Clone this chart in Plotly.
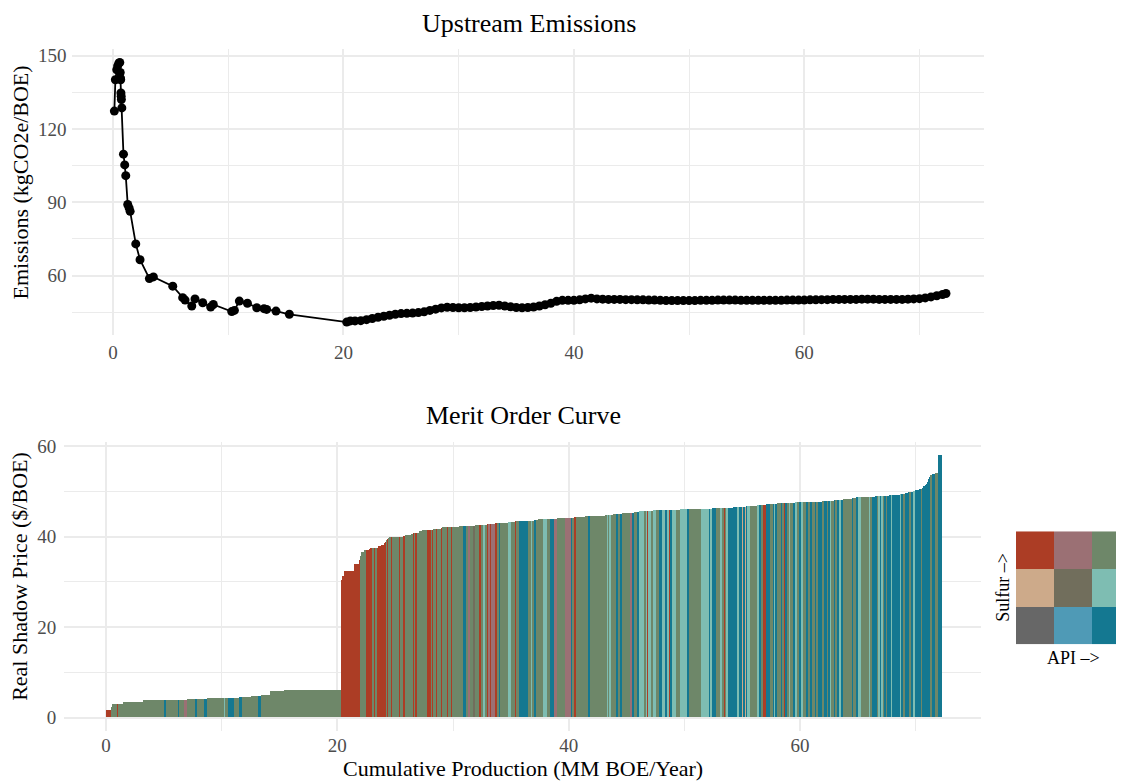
import numpy as np
import plotly.graph_objects as go

# ---------------- Data ----------------
# Upstream emissions curve (cumulative production vs. emissions intensity)
emis_x = [0.11, 0.20, 0.32, 0.40, 0.50, 0.58, 0.62, 0.64, 0.66, 0.68, 0.70, 0.72, 0.76,
          0.90, 1.01, 1.10, 1.27, 1.39, 1.48, 1.97, 2.34, 3.15, 3.50, 5.18, 6.04, 6.25,
          6.83, 7.11, 7.78, 8.47, 8.70, 10.30, 10.53, 10.96, 11.66, 12.47, 13.10, 13.33,
          14.14, 15.30,
          20.28, 20.6, 21.0, 21.5, 22.0, 22.5, 23.0, 23.5, 24.0, 24.5, 25.0, 25.5, 26.0,
          26.5, 27.0, 27.5, 28.0, 28.5, 29.0, 29.5, 30.0, 30.5, 31.0, 31.5, 32.0, 32.5,
          33.0, 33.5, 34.0, 34.5, 35.0, 35.5, 36.0, 36.5, 37.0, 37.5, 38.0, 38.5, 39.0,
          39.5, 40.0, 40.5, 41.0, 41.5, 42.0, 42.5, 43.0, 43.5, 44.0, 44.5, 45.0, 45.5,
          46.0, 46.5, 47.0, 47.5, 48.0, 48.5, 49.0, 49.5, 50.0, 50.5, 51.0, 51.5, 52.0,
          52.5, 53.0, 53.5, 54.0, 54.5, 55.0, 55.5, 56.0, 56.5, 57.0, 57.5, 58.0, 58.5,
          59.0, 59.5, 60.0, 60.5, 61.0, 61.5, 62.0, 62.5, 63.0, 63.5, 64.0, 64.5, 65.0,
          65.5, 66.0, 66.5, 67.0, 67.5, 68.0, 68.5, 69.0, 69.5, 70.0, 70.5, 71.0, 71.5,
          72.0, 72.3]
emis_y = [127.3, 140.1, 144.2, 145.8, 146.9, 147.2, 143.1, 140.8, 140.1, 134.7, 133.4, 132.0, 128.6,
          109.7, 105.3, 100.9, 89.1, 87.7, 86.3, 73.0, 66.5, 58.8, 59.5, 55.7, 51.0, 50.0,
          47.6, 50.5, 48.9, 47.2, 48.2, 45.3, 45.8, 49.6, 48.7, 46.9, 46.5, 46.2,
          45.5, 44.2,
          41.0, 41.5, 41.5, 41.6, 42.0, 42.5, 43.0, 43.4, 43.8, 44.2, 44.5, 44.6, 44.7,
          44.9, 45.2, 45.8, 46.3, 46.8, 47.1, 47.0, 46.9, 46.9, 47.0, 47.2, 47.4, 47.6,
          47.8, 47.9, 47.6, 47.3, 47.0, 46.9, 47.0, 47.2, 47.6, 48.1, 48.7, 49.5, 49.9,
          49.9, 49.9, 50.1, 50.5, 50.8, 50.5, 50.4, 50.3, 50.3, 50.3, 50.2, 50.2, 50.1,
          50.1, 50.0, 50.0, 49.9, 49.8, 49.8, 49.8, 49.8, 49.8, 49.8, 49.9, 49.9, 49.9,
          50.0, 50.0, 50.0, 50.0, 49.9, 49.9, 49.9, 49.9, 49.9, 49.9, 49.9, 49.9, 50.0,
          50.0, 50.0, 50.0, 50.1, 50.1, 50.2, 50.2, 50.3, 50.3, 50.3, 50.3, 50.3, 50.4,
          50.4, 50.4, 50.3, 50.3, 50.3, 50.3, 50.3, 50.4, 50.5, 50.6, 50.9, 51.3, 51.8,
          52.3, 52.7]

# Merit order curve: cumulative production at the end of each field (MM BOE/Year)
cum_production_end = [
    0.49, 0.58, 0.98, 1.10, 1.50, 3.23, 5.11, 5.19, 6.26, 6.35, 6.84, 7.01, 7.79, 7.88, 8.57,
    8.74, 10.30, 10.39, 10.56, 11.08, 11.52, 11.75, 12.55, 13.16, 13.42, 14.20, 15.41, 20.35,
    20.40, 20.49, 20.61, 21.47, 21.90, 21.99, 22.08, 22.34, 22.51, 22.77, 22.86, 23.03, 23.20,
    23.29, 23.46, 23.55, 23.81, 24.07, 24.16, 24.24, 24.33, 24.42, 24.50, 24.68, 24.76, 25.37,
    25.45, 25.71, 25.89, 26.41, 26.52, 26.70, 26.78, 26.95, 27.04, 27.39, 27.47, 27.79, 28.14,
    28.23, 28.31, 28.60, 28.66, 29.00, 29.09, 29.35, 29.52, 29.61, 29.87, 29.96, 30.51, 30.85,
    31.14, 31.37, 31.49, 31.83, 31.95, 32.24, 32.47, 32.64, 32.76, 32.96, 33.10, 33.22, 33.33,
    33.68, 33.85, 34.03, 34.11, 34.75, 35.06, 35.41, 35.50, 35.70, 36.54, 36.80, 36.91, 37.06,
    37.23, 37.40, 37.78, 38.10, 38.44, 38.79, 39.02, 39.74, 40.26, 40.38, 40.52, 40.66, 41.04,
    41.47, 41.76, 41.82, 43.21, 43.35, 43.44, 43.58, 43.67, 43.87, 44.16, 44.33, 44.42, 44.65,
    45.37, 45.51, 45.63, 45.97, 46.09, 46.61, 46.72, 46.81, 46.90, 47.16, 47.30, 47.53, 47.88,
    48.05, 48.31, 48.54, 48.74, 48.83, 48.98, 49.26, 49.64, 50.30, 50.39, 51.43,
    52.21, 52.29, 52.38, 52.73, 53.16, 53.25, 53.51, 53.59, 53.68, 53.77, 54.20, 54.63, 54.72,
    55.06, 55.15, 55.32, 55.41, 55.50, 55.67, 56.36, 56.45, 56.71, 56.80, 57.14, 57.23, 57.49,
    57.66, 57.84, 57.92, 58.01, 58.44, 58.53, 58.70, 58.79, 58.96, 59.13, 59.22, 59.39, 59.57,
    59.83, 59.91, 60.17, 60.26, 60.61, 60.78, 60.95, 61.04, 61.39, 61.47, 61.56, 61.82,
    61.90, 62.08, 62.42, 62.51, 62.68, 62.77, 62.94, 63.12, 63.29, 63.46, 63.55, 63.81, 63.90,
    64.59, 64.68, 64.85, 65.11, 65.28, 66.06, 66.15, 66.32, 66.49, 66.75, 66.84, 67.01, 67.10,
    67.19, 67.27, 67.45, 67.53, 67.71, 67.88, 67.97, 68.14, 68.66, 68.83, 69.00, 69.09, 69.35,
    69.52, 69.61, 69.78, 69.96, 70.13, 70.30, 70.48, 70.56, 70.65, 70.82, 70.91, 71.00, 71.08,
    71.17, 71.26, 71.43, 71.69, 71.95, 72.29]

# Real shadow price of each field ($/BOE), in merit order
shadow_price = [
    # 0 - 20
    1.5, 2.3, 2.8, 2.9, 2.9, 3.3, 3.7, 3.7, 3.7, 3.7,
    3.7, 3.9, 4.0, 4.0, 4.0, 4.0, 4.2, 4.2, 4.2, 4.2,
    4.2, 4.4, 4.4, 4.6, 4.6, 4.9, 5.7, 6.0,
    # 20 - 31
    29.6, 30.4, 31.3, 32.2, 33.9, 34.8, 35.7, 36.6, 36.9, 36.9,
    37.2, 37.4, 37.4, 37.4, 37.4, 37.4, 37.9, 38.1, 38.4, 38.8,
    39.1, 39.3, 39.5, 39.8, 39.8, 39.8, 39.8, 39.8, 40.1, 40.3,
    40.5, 40.8, 40.8, 40.8, 40.8, 41.1, 41.3, 41.4, 41.4, 41.4,
    41.4, 41.6, 41.6, 41.6, 41.8, 42.0, 42.0, 42.0, 42.0, 42.0,
    42.0, 42.3,
    # 31 - 41
    42.3, 42.3, 42.3, 42.3, 42.3, 42.5, 42.5, 42.5, 42.5, 42.5,
    42.7, 42.7, 42.7, 42.7, 42.9, 42.9, 42.9, 42.9, 43.1, 43.1,
    43.4, 43.4, 43.4, 43.4, 43.4, 43.4, 43.6, 43.6, 43.8, 43.8,
    43.8, 43.8, 43.8, 44.0, 44.0, 44.0, 44.0, 44.2, 44.2,
    # 41 - 51.4
    44.2, 44.4, 44.4, 44.4, 44.6, 44.6, 44.6, 44.6, 44.6, 44.8,
    44.8, 44.8, 44.8, 45.1, 45.1, 45.1, 45.3, 45.3, 45.5, 45.5,
    45.5, 45.5, 45.5, 45.5, 45.8, 45.8, 45.8, 45.8, 45.8, 45.8,
    45.8, 45.8, 45.8, 45.8, 46.0, 46.0, 46.0,
    # 51.4 - 61.8
    46.0, 46.0, 46.0, 46.2, 46.2, 46.2, 46.2, 46.2, 46.2, 46.2,
    46.2, 46.4, 46.4, 46.4, 46.4, 46.4, 46.4, 46.6, 46.6, 46.6,
    46.8, 46.8, 46.8, 46.8, 47.1, 47.1, 47.1, 47.1, 47.1, 47.1,
    47.3, 47.3, 47.3, 47.3, 47.3, 47.3, 47.3, 47.3, 47.3, 47.5,
    47.5, 47.5, 47.5, 47.5, 47.5, 47.5, 47.5, 47.5, 47.5, 47.5,
    47.5,
    # 61.8 - 72.3
    47.5, 47.7, 47.7, 47.7, 47.7, 47.7, 47.7, 48.0, 48.0, 48.0,
    48.0, 48.0, 48.2, 48.2, 48.4, 48.4, 48.6, 48.6, 48.6, 48.6,
    48.6, 48.6, 48.8, 48.8, 48.8, 48.8, 48.8, 48.8, 48.8, 48.8,
    48.8, 49.0, 49.0, 49.0, 49.0, 49.3, 49.3, 49.3, 49.5, 49.7,
    49.7, 49.8, 50.0, 50.1, 50.3, 50.4, 50.4, 50.7, 51.0, 51.3,
    51.6, 52.0, 52.6, 53.1, 53.5, 53.7, 53.9, 57.9]

# Crude class of each field (API level x sulfur level):
# r=lowAPI/highS  m=midAPI/highS  g=highAPI/highS
# t=lowAPI/midS   o=midAPI/midS   l=highAPI/midS
# y=lowAPI/lowS   b=midAPI/lowS   d=highAPI/lowS
crude_class = (
    "r g g r g g g d g d  g m g d g d g l g d  g d g g d g g g "
    "r r r r r r g g g r  r r g r g r r r r r  g r g g r g r g r g  "
    "g r g r g g g g r g  r g r g r g g r g r  g g "
    "d g m g o g r g l g  r m r m r g d g l g  r g d g l g d g g l  g d m g m d g r g "
    "g g d g g l g l g g  d g d g m d g d l g  l r l g l g d l d l  r d l g l d g "
    "l d l d g l g r g l  d d l d t d t d l g  l d g r d d g d l d  "
    "g d g r d g l g d l  g d l g d g d g d g  d "
    "d g d g d l g d g d  l d g g d g d l g l  g d d g l d l g d g  "
    "d d l d d l d g d d  g d l d d d g d d d  d d d d g d g d"
).split()

palette = {
    "r": "#AC3D25", "m": "#9B7074", "g": "#6E8769",
    "t": "#CDAA8A", "o": "#716E5C", "l": "#7EBDB2",
    "y": "#676767", "b": "#4F9AB6", "d": "#147891",
}
classes_order = ["y", "b", "d", "t", "o", "l", "r", "m", "g"]

# Legend grid (rows: sulfur low->high, columns: API low->high)
legend_grid = [["y", "b", "d"], ["t", "o", "l"], ["r", "m", "g"]]
legend_api = [1, 2, 3]
legend_sulfur = [1, 2, 3]

assert len(cum_production_end) == len(shadow_price) == len(crude_class), (
    len(cum_production_end), len(shadow_price), len(crude_class))
assert len(emis_x) == len(emis_y)

# ---------------- Derived ----------------
ends = np.array(cum_production_end)
starts = np.concatenate([[0.0], ends[:-1]])
widths = ends - starts
centers = (starts + ends) / 2
colors = [palette[c] for c in crude_class]

# The page body adds an 8px margin; the figure is laid out in page pixels.
OFF = 8
W, H = 1124 - OFF, 782 - OFF
FONT = "Liberation Serif"
GRID = "#EBEBEB"


def px_x(a, b):
    return [max(0, (a - OFF) / W), min(1, (b - OFF) / W)]


def px_y(top, bottom):
    return [1 - (bottom - OFF) / H, 1 - (top - OFF) / H]


def pos_x(a):
    return (a - OFF) / W


def pos_y(a):
    return 1 - (a - OFF) / H


fig = go.Figure()

fig.add_trace(go.Scatter(
    x=emis_x, y=emis_y, mode="lines+markers",
    line=dict(color="black", width=1.8),
    marker=dict(color="black", size=9),
    xaxis="x", yaxis="y", showlegend=False, hoverinfo="skip",
))

fig.add_trace(go.Bar(
    x=centers, y=shadow_price, width=widths,
    marker=dict(color=colors, line=dict(width=0)),
    xaxis="x2", yaxis="y2", showlegend=False,
))

zmat = [[classes_order.index(c) for c in row] for row in legend_grid]
cs = []
for i, c in enumerate(classes_order):
    cs.append([i / 9, palette[c]])
    cs.append([(i + 1) / 9, palette[c]])
fig.add_trace(go.Heatmap(
    z=zmat, x=legend_api, y=legend_sulfur, zmin=-0.5, zmax=8.5,
    colorscale=cs, showscale=False, xaxis="x3", yaxis="y3", hoverinfo="skip",
))

tickfont = dict(family=FONT, size=19, color="#4D4D4D")
common = dict(showline=False, zeroline=False, ticks="", gridcolor=GRID, gridwidth=1.6,
              tickfont=tickfont)
minor = dict(showgrid=True, gridcolor=GRID, gridwidth=0.8)

fig.update_layout(
    width=W, height=H,
    paper_bgcolor="white", plot_bgcolor="white",
    margin=dict(l=0, r=0, t=0, b=0),
    font=dict(family=FONT, color="black"),
    bargap=0,
    xaxis=dict(domain=px_x(71.5, 984), range=[-3.61, 75.6], tick0=0, dtick=20,
               minor=dict(dtick=10, **minor), anchor="y", ticklabelstandoff=4, **common),
    yaxis=dict(domain=px_y(42.8, 331), range=[35.7, 152.5], tick0=0, dtick=30,
               minor=dict(dtick=15, **minor), anchor="x", ticklabelstandoff=4, **common),
    xaxis2=dict(domain=px_x(64.2, 980.5), range=[-3.61, 75.6], tick0=0, dtick=20,
                minor=dict(dtick=10, **minor), anchor="y2", ticklabelstandoff=1, **common),
    yaxis2=dict(domain=px_y(439.3, 730.2), range=[-2.9, 60.8], tick0=0, dtick=20,
                minor=dict(dtick=10, **minor), anchor="x2", ticklabelstandoff=7, **common),
    xaxis3=dict(domain=px_x(1016, 1124), range=[0.5, 3.5 - 6 / 38], visible=False,
                anchor="y3"),
    yaxis3=dict(domain=px_y(529, 643), range=[0.5, 3.5], visible=False, anchor="x3"),
)

ann = [
    ("Upstream Emissions", 529, 17, 26, 0),
    ("Merit Order Curve", 523, 412, 26, 0),
    ("Emissions (kgCO2e/BOE)", 20, 177, 22, -90),
    ("Real Shadow Price ($/BOE)", 20, 575, 22, -90),
    ("Cumulative Production (MM BOE/Year)", 523, 768, 22, 0),
    ("API –>", 1073, 657, 18, 0),
    ("Sulfur –>", 1003, 585, 18, -90),
]
fig.update_layout(annotations=[
    dict(text=t, x=pos_x(x), y=pos_y(y), xref="paper", yref="paper",
         xanchor="center", yanchor="middle", showarrow=False, textangle=ang,
         font=dict(family=FONT, size=s, color="black"))
    for (t, x, y, s, ang) in ann
])

fig.write_html("out.html")
